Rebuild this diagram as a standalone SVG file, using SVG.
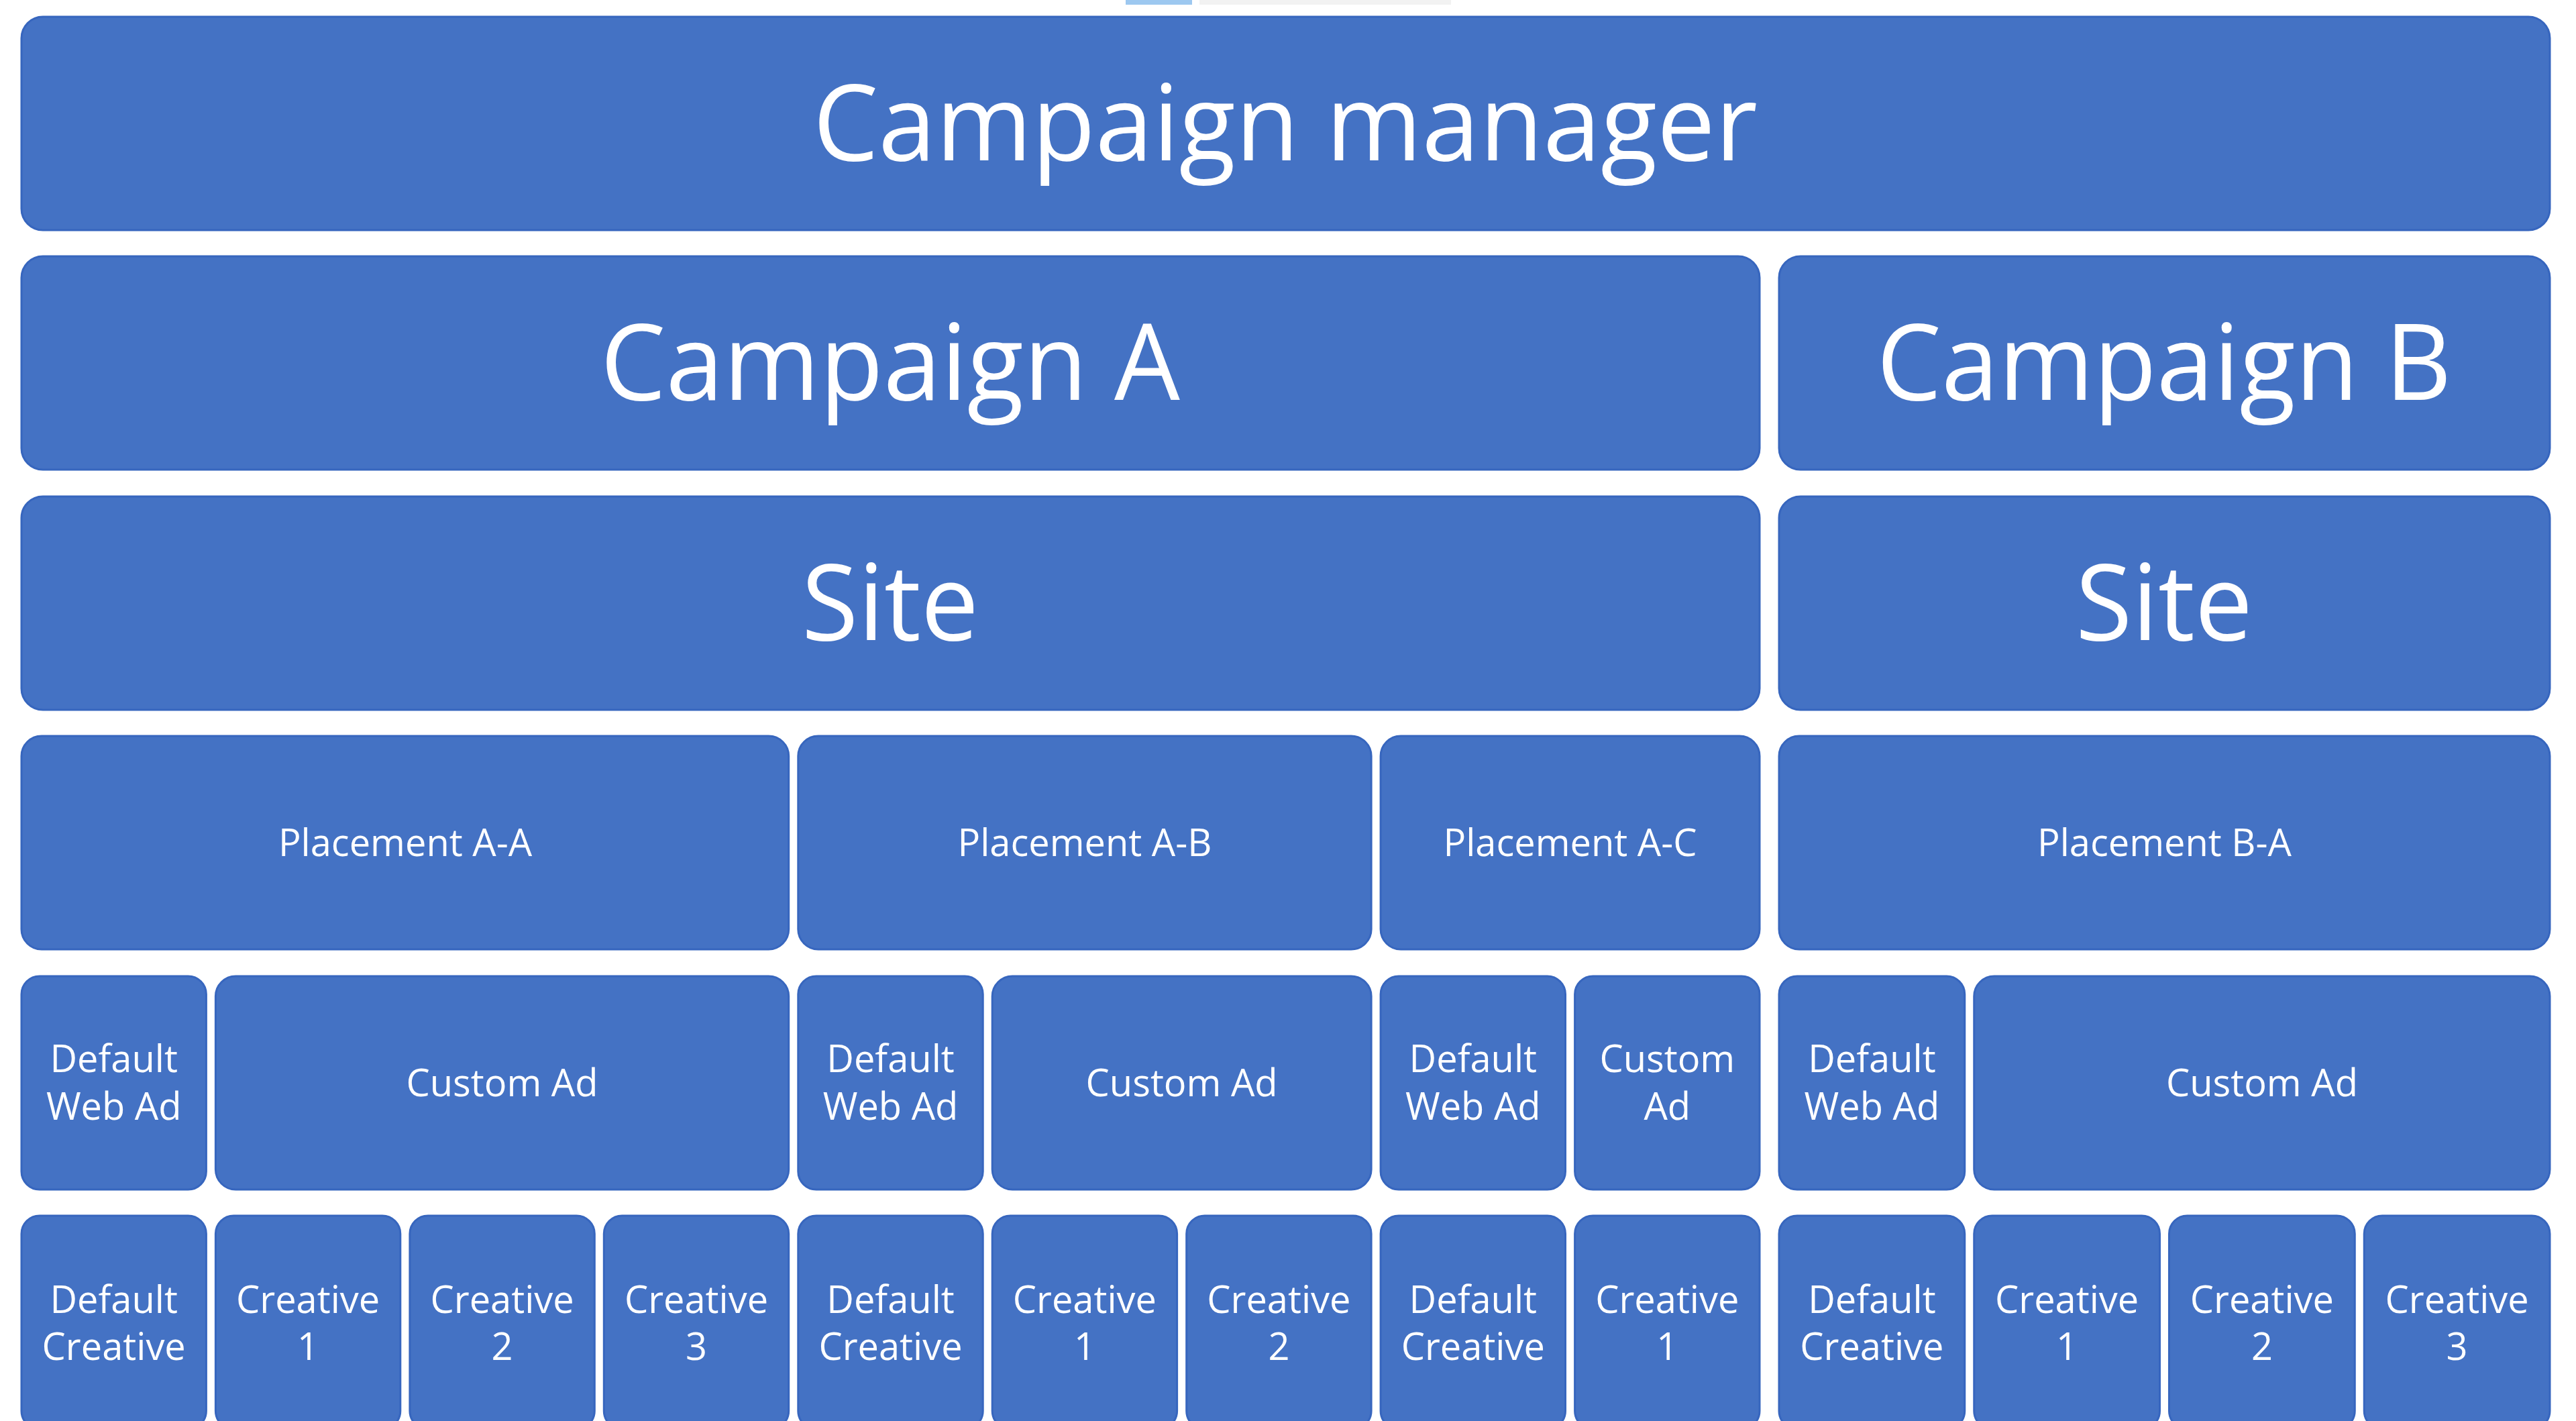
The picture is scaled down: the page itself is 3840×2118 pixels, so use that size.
<svg xmlns="http://www.w3.org/2000/svg" width="3840" height="2118" viewBox="0 0 3840 2118">
<style>
.box{fill:#4472C4;stroke:#3766BE;stroke-width:3}
.big{font-family:"Open Sans","Noto Sans","Liberation Sans",sans-serif;font-size:157px;fill:#FFFFFF;text-anchor:middle}
.sm{font-family:"Open Sans","Noto Sans","Liberation Sans",sans-serif;font-size:56px;fill:#FFFFFF;text-anchor:middle}
</style>
<rect x="0" y="0" width="3840" height="2118" fill="#FFFFFF"/>
<rect x="1678" y="0" width="99" height="7" fill="#9DC8F0"/>
<rect x="1788" y="0" width="375" height="7" fill="#F2F2F2"/>
<g id="connectors"/>
<g id="campaign-manager"><rect class="box" x="32" y="25" width="3769" height="318" rx="32"/><text class="big" x="1916" y="239" textLength="1408" lengthAdjust="spacingAndGlyphs">Campaign manager</text></g>
<g id="campaign-a"><rect class="box" x="32" y="382" width="2591" height="318" rx="32"/><text class="big" x="1327" y="596" textLength="864" lengthAdjust="spacingAndGlyphs">Campaign A</text></g>
<g id="campaign-b"><rect class="box" x="2652" y="382" width="1149" height="318" rx="32"/><text class="big" x="3226" y="596" textLength="857" lengthAdjust="spacingAndGlyphs">Campaign B</text></g>
<g id="site-a"><rect class="box" x="32" y="740" width="2591" height="318" rx="32"/><text class="big" x="1327" y="954" textLength="264" lengthAdjust="spacingAndGlyphs">Site</text></g>
<g id="site-b"><rect class="box" x="2652" y="740" width="1149" height="318" rx="32"/><text class="big" x="3226" y="954" textLength="264" lengthAdjust="spacingAndGlyphs">Site</text></g>
<g id="placement-aa"><rect class="box" x="32" y="1097" width="1143.7" height="318" rx="30"/><text class="sm" x="604" y="1276">Placement A-A</text></g>
<g id="placement-ab"><rect class="box" x="1189.8" y="1097" width="854.3" height="318" rx="30"/><text class="sm" x="1617" y="1276">Placement A-B</text></g>
<g id="placement-ac"><rect class="box" x="2058.1" y="1097" width="564.9" height="318" rx="30"/><text class="sm" x="2340.5" y="1276">Placement A-C</text></g>
<g id="placement-ba"><rect class="box" x="2652" y="1097" width="1149" height="318" rx="30"/><text class="sm" x="3226.5" y="1276">Placement B-A</text></g>
<g id="dwa-aa"><rect class="box" x="32" y="1455" width="275.4" height="318" rx="27"/><text class="sm"><tspan x="169.7" y="1598">Default</tspan><tspan x="169.7" y="1669">Web Ad</tspan></text></g>
<g id="custom-aa"><rect class="box" x="321.4" y="1455" width="854.3" height="318" rx="30"/><text class="sm" x="748.5" y="1634">Custom Ad</text></g>
<g id="dwa-ab"><rect class="box" x="1189.8" y="1455" width="275.4" height="318" rx="27"/><text class="sm"><tspan x="1327.5" y="1598">Default</tspan><tspan x="1327.5" y="1669">Web Ad</tspan></text></g>
<g id="custom-ab"><rect class="box" x="1479.2" y="1455" width="564.9" height="318" rx="30"/><text class="sm" x="1761.6" y="1634">Custom Ad</text></g>
<g id="dwa-ac"><rect class="box" x="2058.1" y="1455" width="275.4" height="318" rx="27"/><text class="sm"><tspan x="2195.8" y="1598">Default</tspan><tspan x="2195.8" y="1669">Web Ad</tspan></text></g>
<g id="custom-ac"><rect class="box" x="2347.6" y="1455" width="275.4" height="318" rx="27"/><text class="sm"><tspan x="2485.3" y="1598">Custom</tspan><tspan x="2485.3" y="1669">Ad</tspan></text></g>
<g id="dwa-ba"><rect class="box" x="2652" y="1455" width="276.75" height="318" rx="27"/><text class="sm"><tspan x="2790.4" y="1598">Default</tspan><tspan x="2790.4" y="1669">Web Ad</tspan></text></g>
<g id="custom-ba"><rect class="box" x="2942.75" y="1455" width="858.25" height="318" rx="30"/><text class="sm" x="3371.9" y="1634">Custom Ad</text></g>
<g id="dc-aa"><rect class="box" x="32" y="1812" width="275.4" height="318" rx="27"/><text class="sm"><tspan x="169.7" y="1957">Default</tspan><tspan x="169.7" y="2027">Creative</tspan></text></g>
<g id="c1-aa"><rect class="box" x="321.4" y="1812" width="275.4" height="318" rx="27"/><text class="sm"><tspan x="459.1" y="1957">Creative</tspan><tspan x="459.1" y="2027">1</tspan></text></g>
<g id="c2-aa"><rect class="box" x="610.9" y="1812" width="275.4" height="318" rx="27"/><text class="sm"><tspan x="748.6" y="1957">Creative</tspan><tspan x="748.6" y="2027">2</tspan></text></g>
<g id="c3-aa"><rect class="box" x="900.3" y="1812" width="275.4" height="318" rx="27"/><text class="sm"><tspan x="1038" y="1957">Creative</tspan><tspan x="1038" y="2027">3</tspan></text></g>
<g id="dc-ab"><rect class="box" x="1189.8" y="1812" width="275.4" height="318" rx="27"/><text class="sm"><tspan x="1327.5" y="1957">Default</tspan><tspan x="1327.5" y="2027">Creative</tspan></text></g>
<g id="c1-ab"><rect class="box" x="1479.2" y="1812" width="275.4" height="318" rx="27"/><text class="sm"><tspan x="1616.9" y="1957">Creative</tspan><tspan x="1616.9" y="2027">1</tspan></text></g>
<g id="c2-ab"><rect class="box" x="1768.7" y="1812" width="275.4" height="318" rx="27"/><text class="sm"><tspan x="1906.4" y="1957">Creative</tspan><tspan x="1906.4" y="2027">2</tspan></text></g>
<g id="dc-ac"><rect class="box" x="2058.1" y="1812" width="275.4" height="318" rx="27"/><text class="sm"><tspan x="2195.8" y="1957">Default</tspan><tspan x="2195.8" y="2027">Creative</tspan></text></g>
<g id="c1-ac"><rect class="box" x="2347.6" y="1812" width="275.4" height="318" rx="27"/><text class="sm"><tspan x="2485.3" y="1957">Creative</tspan><tspan x="2485.3" y="2027">1</tspan></text></g>
<g id="dc-ba"><rect class="box" x="2652" y="1812" width="276.75" height="318" rx="27"/><text class="sm"><tspan x="2790.4" y="1957">Default</tspan><tspan x="2790.4" y="2027">Creative</tspan></text></g>
<g id="c1-ba"><rect class="box" x="2942.75" y="1812" width="276.75" height="318" rx="27"/><text class="sm"><tspan x="3081.1" y="1957">Creative</tspan><tspan x="3081.1" y="2027">1</tspan></text></g>
<g id="c2-ba"><rect class="box" x="3233.5" y="1812" width="276.75" height="318" rx="27"/><text class="sm"><tspan x="3371.9" y="1957">Creative</tspan><tspan x="3371.9" y="2027">2</tspan></text></g>
<g id="c3-ba"><rect class="box" x="3524.25" y="1812" width="276.75" height="318" rx="27"/><text class="sm"><tspan x="3662.6" y="1957">Creative</tspan><tspan x="3662.6" y="2027">3</tspan></text></g>
</svg>
